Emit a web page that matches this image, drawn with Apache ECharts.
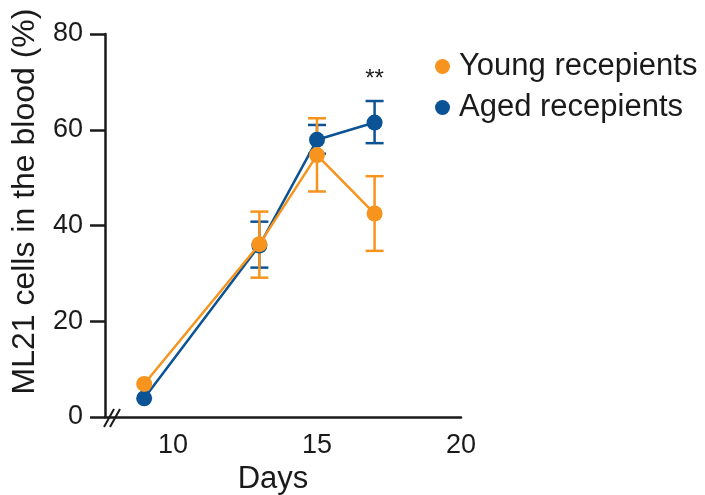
<!DOCTYPE html>
<html>
<head>
<meta charset="utf-8">
<script src="https://cdn.jsdelivr.net/npm/echarts@6/dist/echarts.min.js"></script>
<style>
  html, body { margin: 0; padding: 0; background: #fff; }
  #main { width: 705px; height: 495px; }
</style>
</head>
<body>
<div id="main"></div>
<script>
// 數據
const days = [9, 13, 15, 17];
const youngMean = [6.9, 36.1, 54.7, 42.5];
const youngLow = [null, 29.1, 47.1, 34.7];
const youngHigh = [null, 42.9, 62.4, 50.3];
const agedMean = [3.9, 35.8, 57.9, 61.5];
const agedLow = [null, 31.2, 55.0, 57.2];
const agedHigh = [null, 40.8, 61.0, 66.0];
const xTickLabels = [10, 15, 20];

const ORANGE = '#F7941D';
const BLUE = '#0B5394';
const INK = '#1a1a1a';
const FONT = 'Liberation Sans, Arial, sans-serif';

function errData(low, high) {
    return days.map((d, i) => [d, low[i], high[i]]).filter(r => r[1] != null);
}

// 誤差線
function errSeries(name, low, high, color) {
    return {
        type: 'custom',
        name: name,
        data: errData(low, high),
        z: 3,
        silent: true,
        itemStyle: { color: color },
        renderItem: function (params, api) {
            const x = api.value(0);
            const lo = api.coord([x, api.value(1)]);
            const hi = api.coord([x, api.value(2)]);
            const w = 9;
            const style = { stroke: color, lineWidth: 2.5 };
            return {
                type: 'group',
                children: [
                    { type: 'line', shape: { x1: lo[0], y1: lo[1], x2: hi[0], y2: hi[1] }, style },
                    { type: 'line', shape: { x1: lo[0] - w, y1: lo[1], x2: lo[0] + w, y2: lo[1] }, style },
                    { type: 'line', shape: { x1: hi[0] - w, y1: hi[1], x2: hi[0] + w, y2: hi[1] }, style }
                ]
            };
        }
    };
}

const chart = echarts.init(document.getElementById('main'));
chart.setOption({
    animation: false,
    textStyle: { fontFamily: FONT },
    grid: { left: 105, right: 244, top: 34, bottom: 78, outerBoundsMode: 'none', containLabel: false },
    legend: {
        orient: 'vertical',
        left: 430,
        top: 46,
        itemGap: 10,
        icon: 'circle',
        itemWidth: 15,
        itemHeight: 15,
        textStyle: { fontSize: 31, color: INK, fontFamily: FONT, padding: [0, 0, 0, 4] },
        data: [
            { name: 'Young recepients', itemStyle: { color: ORANGE } },
            { name: 'Aged recepients', itemStyle: { color: BLUE } }
        ]
    },
    xAxis: {
        type: 'value',
        min: 7.64,
        max: 20,
        splitLine: { show: false },
        axisLine: { lineStyle: { color: INK, width: 2.5 } },
        axisTick: { show: false },
        axisLabel: { customValues: xTickLabels, fontSize: 27, color: INK, margin: 15 },
        name: 'Days',
        nameLocation: 'middle',
        nameGap: 42,
        nameTextStyle: { fontSize: 31, color: INK, padding: [0, 20, 0, 0] }
    },
    yAxis: {
        type: 'value',
        min: 0,
        max: 80,
        interval: 20,
        splitLine: { show: false },
        axisLine: { lineStyle: { color: INK, width: 2.5 } },
        axisTick: { length: 15, lineStyle: { color: INK, width: 2.5 } },
        axisLabel: { fontSize: 27, color: INK, margin: 22 },
        name: 'ML21 cells in the blood (%)',
        nameLocation: 'middle',
        nameGap: 64,
        nameTextStyle: { fontSize: 32, color: INK, padding: [0, 0, 0, 48] }
    },
    series: [
        errSeries('Aged recepients', agedLow, agedHigh, BLUE),
        {
            name: 'Aged recepients',
            type: 'line',
            data: days.map((d, i) => [d, agedMean[i]]),
            symbol: 'circle',
            symbolSize: 16,
            z: 4,
            itemStyle: { color: BLUE },
            lineStyle: { color: BLUE, width: 2.5 },
            markPoint: {
                symbol: 'circle',
                symbolSize: 0,
                data: [{ coord: [17, 70.5] }],
                label: { show: true, formatter: '**', position: 'inside', fontSize: 24, color: INK }
            }
        },
        errSeries('Young recepients', youngLow, youngHigh, ORANGE),
        {
            name: 'Young recepients',
            type: 'line',
            data: days.map((d, i) => [d, youngMean[i]]),
            symbol: 'circle',
            symbolSize: 16,
            z: 5,
            itemStyle: { color: ORANGE },
            lineStyle: { color: ORANGE, width: 2.5 }
        }
    ],
    graphic: [
        { type: 'line', shape: { x1: 104, y1: 427, x2: 114, y2: 409 }, style: { stroke: INK, lineWidth: 2 } },
        { type: 'line', shape: { x1: 110, y1: 427, x2: 120, y2: 409 }, style: { stroke: INK, lineWidth: 2 } }
    ]
});
</script>
</body>
</html>
